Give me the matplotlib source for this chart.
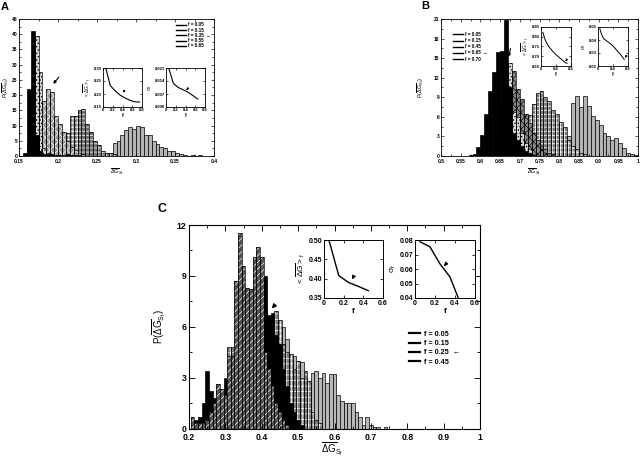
import numpy as np
import matplotlib
matplotlib.use('Agg')
import matplotlib.pyplot as plt
from matplotlib.lines import Line2D
from matplotlib.ticker import MultipleLocator, FuncFormatter, FormatStrFormatter

plt.rcParams['font.family'] = ['Liberation Sans', 'DejaVu Sans']
plt.rcParams['mathtext.default'] = 'regular'
plt.rcParams['hatch.linewidth'] = 0.5

# ---------------- Panel A data ----------------
A_bin_start = 0.155
A_bin_width = 0.005
A_labels = ['f = 0.05', 'f = 0.15', 'f = 0.35', 'f = 0.55', 'f = 0.65']
A_f05 = [0, 0, 0, 0, 0, 0, 0, 0, 0, 0, 0, 0, 0, 0, 0, 0, 0, 0, 0, 0, 0, 0, 0.5,
         4.2, 5, 7, 8.5, 9.5, 9, 10, 9.5, 7, 7, 5, 4, 3, 2.5, 1.5, 1.5, 1, 0.5, 0.2, 0, 0.3, 0.1, 0.2]
A_f15 = [0, 0, 0, 0, 0, 0, 0, 0, 0, 2, 4, 7.5, 13, 13, 15, 15.5, 10.5, 8, 5, 3.5, 1.5, 1, 1,
         0.5, 0, 0, 0, 0, 0, 0, 0, 0, 0, 0, 0, 0, 0, 0, 0, 0, 0, 0, 0, 0, 0, 0]
A_f35 = [0, 0, 0, 2, 6, 18, 22, 21, 13, 10.5, 8, 5, 3, 2, 1, 0.5, 0, 0, 0, 0, 0, 0, 0,
         0, 0, 0, 0, 0, 0, 0, 0, 0, 0, 0, 0, 0, 0, 0, 0, 0, 0, 0, 0, 0, 0, 0]
A_f55 = [0, 5, 20, 39.5, 27.5, 2.5, 1.0, 0, 0, 0, 0, 0, 0, 0, 0, 0, 0, 0, 0, 0, 0, 0, 0,
         0, 0, 0, 0, 0, 0, 0, 0, 0, 0, 0, 0, 0, 0, 0, 0, 0, 0, 0, 0, 0, 0, 0]
A_f65 = [1, 22, 41, 7, 1.5, 0.8, 0.5, 0.5, 0.3, 0.3, 0.3, 0.5, 0.4, 0.3, 0.2, 0, 0, 0, 0, 0, 0, 0, 0,
         0, 0, 0, 0, 0, 0, 0, 0, 0, 0, 0, 0, 0, 0, 0, 0, 0, 0, 0, 0, 0, 0, 0]
A_in_f1 = [0.05, 0.15, 0.25, 0.35, 0.45, 0.55, 0.65, 0.75]
A_in_mean = [0.305, 0.232, 0.212, 0.196, 0.185, 0.176, 0.170, 0.169]
A_in_f2 = [0.05, 0.15, 0.25, 0.35, 0.45, 0.55, 0.65]
A_in_sigma = [0.0215, 0.0128, 0.0105, 0.0093, 0.0080, 0.0062, 0.0043]

# ---------------- Panel B data ----------------
B_bin_start = 0.57
B_bin_width = 0.01
B_labels = ['f = 0.05', 'f = 0.15', 'f = 0.45', 'f = 0.65', 'f = 0.70']
B_f05 = [0]*23 + [0.5, 1.5, 3, 8.2, 9.2, 7.5, 9.2, 7.7, 6.2, 5.5, 4.8, 3.5, 3, 2.5, 2.8, 2, 1.3, 0.5, 0.3, 0.1]
B_f15 = [0]*11 + [1, 3, 5.5, 6, 6.3, 8, 9.7, 10, 9, 8.5, 7, 6.5, 5.2, 4.5, 2.5, 1.5, 1, 0.5, 0.3] + [0]*13
B_f45 = [0]*7 + [2, 5, 8, 11, 13.1, 10.2, 8.8, 6.5, 5, 3.5, 2.5, 1.5, 1, 0.5, 0.3] + [0]*21
B_f65 = [0]*7 + [3, 8, 12, 14.2, 6.8, 6, 3.5, 2, 1, 0.3] + [0]*26
B_f70 = [0.2, 0.3, 1.4, 3.2, 6.5, 10, 12.8, 15.9, 16.1, 20.8, 10.5, 3.5, 2.5, 1.5, 0.8, 0.4, 0.2] + [0]*26
B_in_f = [0.05, 0.1, 0.15, 0.2, 0.3, 0.4, 0.5, 0.6, 0.65, 0.7]
B_in_mean = [0.822, 0.79, 0.768, 0.752, 0.728, 0.708, 0.692, 0.675, 0.667, 0.664]
B_in_sigma = [0.0485, 0.044, 0.041, 0.040, 0.0378, 0.0355, 0.032, 0.029, 0.027, 0.025]

# ---------------- Panel C data ----------------
C_bin_start = 0.205
C_bin_width = 0.01
C_labels = ['f = 0.05', 'f = 0.15', 'f = 0.25', 'f = 0.45']
C_f05 = [0]*21 + [1, 2, 3, 4, 6.0, 5.3, 4.0, 4.3, 3.7, 3.9, 3.0, 2.5, 3.3, 3.4, 3.0, 3.3, 2.7, 3.2,
                  3.2, 2.0, 1.6, 1.5, 1.5, 1.5, 1.0, 0.7, 0.2, 0.7, 0.2, 0.1, 0.1, 0, 0.1]
C_f15 = [0]*9 + [2, 4.8, 4.8, 6, 7, 7, 7, 7, 7, 7, 7.5, 7, 6.5, 6.5, 6.9, 6.4, 5.0, 4.5, 4.4, 3.5,
                 4.0, 3.0, 3.4, 2.8, 1.0, 0.5, 0.3] + [0]*18
C_f25 = [0.7, 0.3, 0.3, 0.3, 0.5, 1.0, 1.5, 2.6, 2.3, 2.0, 4.3, 4.3, 8.7, 11.5, 9.6, 8.3, 8.2, 10.1,
         10.7, 10.1, 4.5, 3.5, 2.5, 1.5, 1.0, 0.5, 0.2] + [0]*27
C_f45 = [0, 0.5, 0.7, 1.5, 3.4, 2.2, 1.8, 1.8, 2.0, 3.0, 2.5, 2, 3, 4, 5, 6, 7, 8, 8.5, 8.8, 9.0,
         6.7, 6.8, 5.5, 5.0, 3.5, 2.5, 1.5, 1.0, 0.5, 0.2] + [0]*23
C_in_f = [0.05, 0.15, 0.25, 0.35, 0.45]
C_in_mean = [0.50, 0.408, 0.390, 0.380, 0.369]
C_in_sigma = [0.0788, 0.0753, 0.0635, 0.0545, 0.037]

W, H = 640, 457
fig = plt.figure(figsize=(6.4, 4.57), dpi=100)


def rect(l, t, r, b):
    return [l / W, 1 - b / H, (r - l) / W, (b - t) / H]


def draw_series(ax, start, width, heights, style):
    h = np.asarray(heights, float)
    edges = start + width * np.arange(len(h))
    m = h > 0
    fc, hatch, hc = style
    if hatch:
        ax.bar(edges[m], h[m], width, align='edge', color=fc, edgecolor=hc,
               hatch=hatch, linewidth=0)
        ax.bar(edges[m], h[m], width, align='edge', fill=False, edgecolor='k',
               linewidth=0.5)
    else:
        ax.bar(edges[m], h[m], width, align='edge', color=fc, edgecolor='k',
               linewidth=0.5)


def style_ax(ax, fs, lmaj=2.5, lmin=1.3, lw=0.6, pad=1.0, xpad=None, bold=False):
    ax.tick_params(which='both', direction='in', top=True, right=True,
                   labelsize=fs, width=lw * 0.8, pad=pad)
    if xpad is not None:
        ax.tick_params(axis='x', which='both', pad=xpad)
    ax.tick_params(which='major', length=lmaj)
    ax.tick_params(which='minor', length=lmin)
    for sp in ax.spines.values():
        sp.set_linewidth(lw)
    if bold:
        for t in ax.get_xticklabels() + ax.get_yticklabels():
            t.set_fontweight('bold')


gfmt = FuncFormatter(lambda v, p: '%g' % round(v, 4))
ylab_main = r'P($\overline{\Delta G}_{S_f}$)'
xlab_main = r'$\overline{\Delta G}_{S_f}$'
ylab_in1 = r'$<\overline{\Delta G}>_f$'
ylab_in2 = r'$\sigma_f$'

# ================= Panel A =================
axA = fig.add_axes(rect(19, 19, 214, 156))
stylesA = [('#b4b4b4', None, None), ('#6e6e6e', '++++', 'white'),
           ('#9a9a9a', 'xxxx', 'white'), ('#d4d4d4', '.....', 'black'),
           ('black', None, None)]
for hs, st in zip([A_f05, A_f15, A_f35, A_f55, A_f65], stylesA):
    draw_series(axA, A_bin_start, A_bin_width, hs, st)
axA.set_xlim(0.15, 0.4)
axA.set_ylim(0, 45)
axA.xaxis.set_major_locator(MultipleLocator(0.05))
axA.xaxis.set_minor_locator(MultipleLocator(0.025))
axA.yaxis.set_major_locator(MultipleLocator(5))
axA.yaxis.set_minor_locator(MultipleLocator(2.5))
axA.xaxis.set_major_formatter(gfmt)
style_ax(axA, 3.6, pad=1.2, xpad=2.0, bold=True)
axA.set_xlabel(xlab_main, fontsize=4)
axA.xaxis.set_label_coords(0.5, -0.075)
axA.set_ylabel(ylab_main, fontsize=4)
axA.yaxis.set_label_coords(-0.042, 0.5)
axA.annotate('', xy=(0.1915, 23), xytext=(0.2035, 26.6),
             arrowprops=dict(arrowstyle='-|>', color='k', lw=0.8, mutation_scale=4))
legA = axA.legend([Line2D([], [], color='k', lw=1.0)] * 5,
                  [A_labels[0], A_labels[1], A_labels[2] + '  \u2190', A_labels[3], A_labels[4]],
                  loc='upper left', bbox_to_anchor=(0.805, 0.975), frameon=False,
                  fontsize=3.3, handlelength=2.2, handletextpad=0.4, labelspacing=0.05,
                  borderpad=0, borderaxespad=0)
for t in legA.get_texts():
    t.set_fontweight('bold')

axA1 = fig.add_axes(rect(103, 68, 142, 107))
axA1.plot(A_in_f1, A_in_mean, color='k', lw=0.8)
axA1.set_xlim(0, 0.8)
axA1.set_ylim(0.15, 0.30)
axA1.set_xticks([0, 0.2, 0.4, 0.6, 0.8])
axA1.set_yticks([0.15, 0.20, 0.25, 0.30])
axA1.xaxis.set_major_formatter(gfmt)
axA1.yaxis.set_major_formatter(FormatStrFormatter('%.2f'))
style_ax(axA1, 3.0, lmaj=1.5, bold=True, pad=0.8)
axA1.set_xlabel('f', fontsize=3.6, labelpad=0.5, fontweight='bold')
axA1.set_ylabel(ylab_in1, fontsize=3.4, labelpad=0.5)
axA1.annotate('', xy=(0.38, 0.196), xytext=(0.47, 0.222),
              arrowprops=dict(arrowstyle='-|>', color='k', lw=0.6, mutation_scale=3))

axA2 = fig.add_axes(rect(166, 68, 205, 107))
axA2.plot(A_in_f2, A_in_sigma, color='k', lw=0.8)
axA2.set_xlim(0, 0.8)
axA2.set_ylim(0, 0.021)
axA2.set_xticks([0, 0.2, 0.4, 0.6, 0.8])
axA2.set_yticks([0, 0.007, 0.014, 0.021])
axA2.xaxis.set_major_formatter(gfmt)
axA2.yaxis.set_major_formatter(FormatStrFormatter('%.3f'))
style_ax(axA2, 3.0, lmaj=1.5, bold=True, pad=0.8)
axA2.set_xlabel('f', fontsize=3.6, labelpad=0.5, fontweight='bold')
axA2.set_ylabel(ylab_in2, fontsize=3.6, labelpad=0.5)
axA2.annotate('', xy=(0.375, 0.0082), xytext=(0.47, 0.0105),
              arrowprops=dict(arrowstyle='-|>', color='k', lw=0.6, mutation_scale=3))

# ================= Panel B =================
axB = fig.add_axes(rect(441, 19, 638, 156))
stylesB = [('#b4b4b4', None, None), ('#7a7a7a', '++++', 'white'),
           ('#8a8a8a', 'xxxx', 'black'), ('#d4d4d4', '.....', 'black'),
           ('black', None, None)]
for hs, st in zip([B_f05, B_f15, B_f45, B_f65, B_f70], stylesB):
    draw_series(axB, B_bin_start, B_bin_width, hs, st)
axB.set_xlim(0.5, 1.0)
axB.set_ylim(0, 21)
axB.xaxis.set_major_locator(MultipleLocator(0.05))
axB.xaxis.set_minor_locator(MultipleLocator(0.025))
axB.yaxis.set_major_locator(MultipleLocator(3))
axB.yaxis.set_minor_locator(MultipleLocator(1.5))
axB.xaxis.set_major_formatter(gfmt)
style_ax(axB, 3.6, pad=1.2, xpad=2.0, bold=True)
axB.set_xlabel(xlab_main, fontsize=4)
axB.xaxis.set_label_coords(0.47, -0.075)
axB.set_ylabel(ylab_main, fontsize=4)
axB.yaxis.set_label_coords(-0.075, 0.5)
axB.annotate('', xy=(0.67, 14.8), xytext=(0.678, 16.9),
             arrowprops=dict(arrowstyle='-|>', color='k', lw=0.8, mutation_scale=4))
legB = axB.legend([Line2D([], [], color='k', lw=1.0)] * 5,
                  [B_labels[0], B_labels[1], B_labels[2], B_labels[3] + '  \u2190', B_labels[4]],
                  loc='upper left', bbox_to_anchor=(0.06, 0.905), frameon=False,
                  fontsize=3.3, handlelength=2.2, handletextpad=0.4, labelspacing=0.25,
                  borderpad=0, borderaxespad=0)
for t in legB.get_texts():
    t.set_fontweight('bold')

axB1 = fig.add_axes(rect(541, 27, 571, 66))
axB1.plot(B_in_f, B_in_mean, color='k', lw=0.7)
axB1.set_xlim(0, 0.8)
axB1.set_ylim(0.65, 0.85)
axB1.set_xticks([0, 0.4, 0.8])
axB1.set_yticks([0.65, 0.70, 0.75, 0.80, 0.85])
axB1.xaxis.set_major_formatter(gfmt)
axB1.yaxis.set_major_formatter(FormatStrFormatter('%.2f'))
style_ax(axB1, 3.0, lmaj=1.5, bold=True, pad=0.8)
axB1.set_xlabel('f', fontsize=3.6, labelpad=0.5, fontweight='bold')
axB1.set_ylabel(ylab_in1, fontsize=3.4, labelpad=0.5)
axB1.annotate('', xy=(0.6, 0.663), xytext=(0.72, 0.69),
              arrowprops=dict(arrowstyle='-|>', color='k', lw=0.6, mutation_scale=3))

axB2 = fig.add_axes(rect(598, 27, 628, 66))
axB2.plot(B_in_f, B_in_sigma, color='k', lw=0.7)
axB2.set_xlim(0, 0.8)
axB2.set_ylim(0.02, 0.05)
axB2.set_xticks([0, 0.4, 0.8])
axB2.set_yticks([0.02, 0.03, 0.04, 0.05])
axB2.xaxis.set_major_formatter(gfmt)
axB2.yaxis.set_major_formatter(FormatStrFormatter('%.2f'))
style_ax(axB2, 3.0, lmaj=1.5, bold=True, pad=0.8)
axB2.set_xlabel('f', fontsize=3.6, labelpad=0.5, fontweight='bold')
axB2.set_ylabel(ylab_in2, fontsize=3.6, labelpad=0.5)
axB2.annotate('', xy=(0.67, 0.0248), xytext=(0.78, 0.0286),
              arrowprops=dict(arrowstyle='-|>', color='k', lw=0.6, mutation_scale=3))

# ================= Panel C =================
axC = fig.add_axes(rect(189, 225, 480, 428.5))
stylesC = [('#b8b8b8', None, None), ('#7a7a7a', '+++', 'white'),
           ('#505050', '/////', 'white'), ('black', None, None)]
orderC = [0, 1, 3, 2]
seriesC = [C_f05, C_f15, C_f25, C_f45]
for k in orderC:
    draw_series(axC, C_bin_start, C_bin_width, seriesC[k], stylesC[k])
axC.set_xlim(0.2, 1.0)
axC.set_ylim(0, 12)
axC.xaxis.set_major_locator(MultipleLocator(0.1))
axC.xaxis.set_minor_locator(MultipleLocator(0.05))
axC.yaxis.set_major_locator(MultipleLocator(3))
axC.yaxis.set_minor_locator(MultipleLocator(1.5))
axC.xaxis.set_major_formatter(gfmt)
style_ax(axC, 6.2, lmaj=4, lmin=2, lw=0.8, pad=2.0, xpad=3.0, bold=True)
axC.set_xlabel(xlab_main, fontsize=7)
axC.xaxis.set_label_coords(0.49, -0.06)
axC.set_ylabel(ylab_main, fontsize=7)
axC.yaxis.set_label_coords(-0.072, 0.5)
axC.annotate('', xy=(0.4225, 6.95), xytext=(0.441, 7.4),
             arrowprops=dict(arrowstyle='-|>', color='k', lw=1.0, mutation_scale=6))
legC = axC.legend([Line2D([], [], color='k', lw=1.6)] * 4,
                  [C_labels[0], C_labels[1], C_labels[2] + '  \u2190', C_labels[3]],
                  loc='upper left', bbox_to_anchor=(0.755, 0.48), frameon=False,
                  fontsize=5.2, handlelength=1.6, handletextpad=0.5, labelspacing=0.3,
                  borderpad=0, borderaxespad=0)
for t in legC.get_texts():
    t.set_fontweight('bold')

axC1 = fig.add_axes(rect(324, 240, 383, 298))
axC1.plot(C_in_f, C_in_mean, color='k', lw=1.0)
axC1.set_xlim(0, 0.6)
axC1.set_ylim(0.35, 0.50)
axC1.set_xticks([0, 0.2, 0.4, 0.6])
axC1.set_yticks([0.35, 0.40, 0.45, 0.50])
axC1.xaxis.set_major_formatter(gfmt)
axC1.yaxis.set_major_formatter(FormatStrFormatter('%.2f'))
style_ax(axC1, 5.0, lmaj=2.5, lw=0.7, pad=1.2, bold=True)
axC1.set_xlabel('f', fontsize=6, labelpad=1, fontweight='bold')
axC1.set_ylabel(ylab_in1, fontsize=6, labelpad=1)
axC1.annotate('', xy=(0.271, 0.392), xytext=(0.315, 0.412),
              arrowprops=dict(arrowstyle='-|>', color='k', lw=0.8, mutation_scale=5))

axC2 = fig.add_axes(rect(415, 240, 475, 298))
axC2.plot(C_in_f, C_in_sigma, color='k', lw=1.0)
axC2.set_xlim(0, 0.6)
axC2.set_ylim(0.04, 0.08)
axC2.set_xticks([0, 0.2, 0.4, 0.6])
axC2.set_yticks([0.04, 0.05, 0.06, 0.07, 0.08])
axC2.xaxis.set_major_formatter(gfmt)
axC2.yaxis.set_major_formatter(FormatStrFormatter('%.2f'))
style_ax(axC2, 5.0, lmaj=2.5, lw=0.7, pad=1.2, bold=True)
axC2.set_xlabel('f', fontsize=6, labelpad=1, fontweight='bold')
axC2.set_ylabel(ylab_in2, fontsize=6, labelpad=1)
axC2.annotate('', xy=(0.273, 0.0605), xytext=(0.317, 0.0642),
              arrowprops=dict(arrowstyle='-|>', color='k', lw=0.8, mutation_scale=5))

fig.text(1 / W, 1 - 2 / H, 'A', fontsize=8, fontweight='bold', va='top', ha='left')
fig.text(421 / W, 1 - 1 / H, 'B', fontsize=8, fontweight='bold', va='top', ha='left')
fig.text(158 / W, 1 - 203 / H, 'C', fontsize=9, fontweight='bold', va='top', ha='left')

fig.savefig('out.png', dpi=100)
